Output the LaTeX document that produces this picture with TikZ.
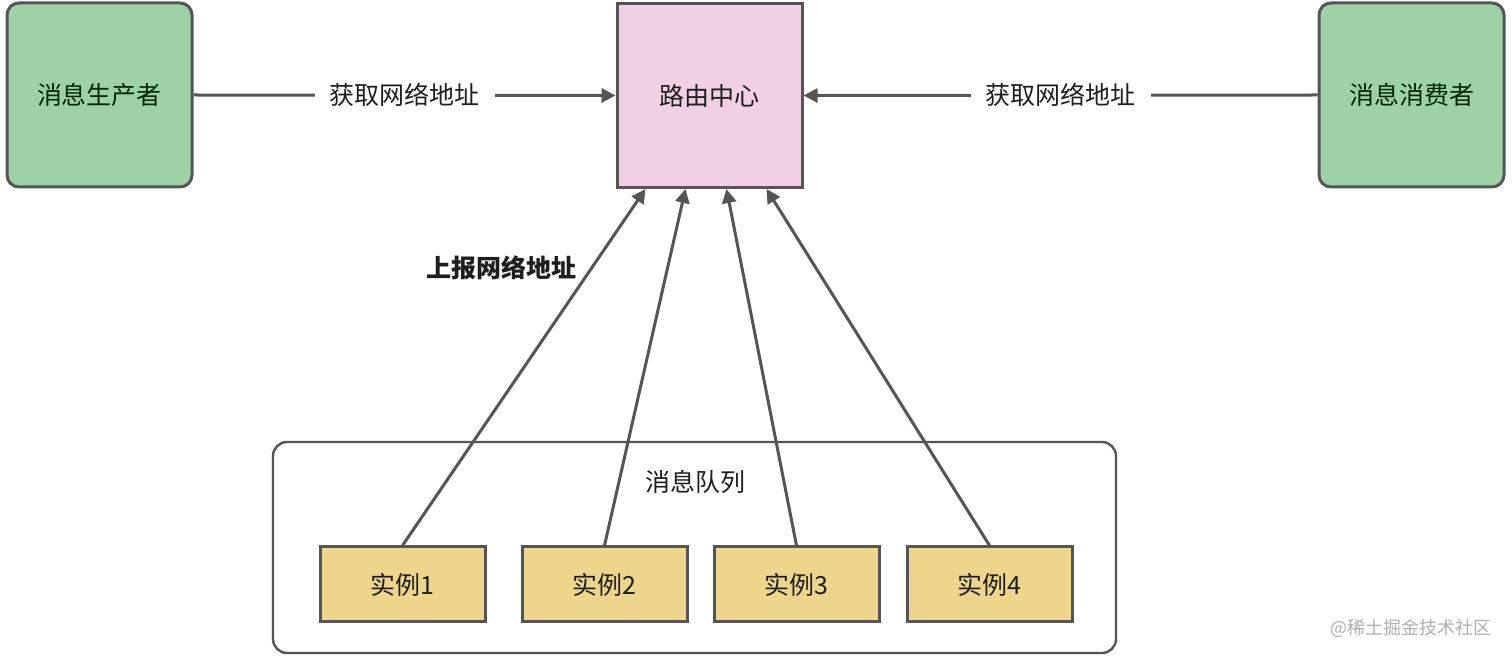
\documentclass[tikz,border=0pt]{standalone}
\usepackage{fontspec}
\setmainfont{Noto Sans CJK SC}
\usetikzlibrary{arrows.meta,calc}
\definecolor{lineg}{RGB}{85,85,85}
\definecolor{greenf}{RGB}{158,210,166}
\definecolor{pinkf}{RGB}{241,208,230}
\definecolor{goldf}{RGB}{237,213,140}
\definecolor{txt}{RGB}{30,30,30}
\definecolor{wmark}{RGB}{175,175,175}
\begin{document}
\begin{tikzpicture}[x=0.5pt,y=-0.5pt,
  every node/.style={font=\fontsize{12.5}{15}\selectfont, text=txt},
  endbox/.style={draw=lineg, line width=1.5pt, fill=greenf, rounded corners=6pt,
    minimum width=92.5pt, minimum height=92pt, inner sep=0pt, text=black!85!green},
  hubbox/.style={draw=lineg, line width=1.5pt, fill=pinkf,
    minimum width=92.5pt, minimum height=92pt, inner sep=0pt},
  groupbox/.style={draw=lineg, line width=1.2pt, fill=white, rounded corners=7pt,
    minimum width=421.5pt, minimum height=105.5pt, inner sep=0pt},
  instbox/.style={draw=lineg, line width=1.5pt, fill=goldf,
    minimum width=82.5pt, minimum height=37.5pt, inner sep=0pt},
  arr/.style={draw=lineg, line width=1.5pt, -{Triangle[length=7pt,width=7pt]}},
  lbl/.style={fill=white, inner xsep=7.5pt, inner ysep=2pt}
]
\useasboundingbox (0,0) rectangle (1512,657);

\node[endbox] (prod) at (99.5,95) {消息生产者};
\node[hubbox] (router) at (709.5,95.5) {路由中心};
\node[endbox] (cons) at (1411.5,95) {消息消费者};

\node[groupbox] (mq) at (694.5,547.5) {};
\node (mqlabel) at (695,482) {消息队列};

\node[instbox] (i1) at (402.5,584.5) {实例1};
\node[instbox] (i2) at (604.5,584.5) {实例2};
\node[instbox] (i3) at (796.5,584.5) {实例3};
\node[instbox] (i4) at (989.5,584.5) {实例4};

\draw[arr] (prod.east) -- node[lbl] (lp) {获取网络地址} (router.west);
\draw[arr] (cons.west) -- node[lbl] (lc) {获取网络地址} (router.east);

\coordinate (t1) at ($(router.south west)+(30,0)$);
\coordinate (t2) at ($(router.south west)+(70,0)$);
\coordinate (t3) at ($(router.south west)+(111,0)$);
\coordinate (t4) at ($(router.south west)+(151,0)$);

\draw[arr] (i1.north) -- (t1);
\draw[arr] (i2.north) -- (t2);
\draw[arr] (i3.north) -- (t3);
\draw[arr] (i4.north) -- (t4);

\node[font=\fontsize{12.5}{15}\selectfont\bfseries] (rep) at (501,268) {上报网络地址};

\node[font=\fontsize{9}{11}\selectfont, text=wmark] (wm) at (1411,628) {@稀土掘金技术社区};
\end{tikzpicture}
\end{document}
